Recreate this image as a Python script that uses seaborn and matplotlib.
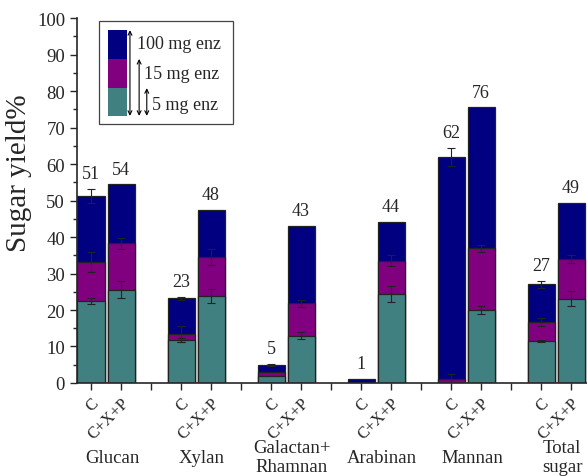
import matplotlib
matplotlib.use('Agg')
import matplotlib.pyplot as plt
import matplotlib.transforms as mtransforms
import numpy as np
import pandas as pd
import seaborn as sns

# data (cumulative yield at each enzyme dose)
groups = ['Glucan', 'Xylan', 'Galactan+\nRhamnan', 'Arabinan', 'Mannan', 'Total\nsugar']
samples = ['C', 'C+X+P']
positions = [1, 2, 4, 5, 7, 8, 10, 11, 13, 14, 16, 17]

yield_5 = [22.5, 25.6, 11.8, 23.8, 1.8, 13.0, 0.0, 24.5, 0.0, 20.0, 11.5, 23.1]
yield_15 = [33.1, 38.3, 13.4, 34.5, 3.0, 21.8, 0.0, 33.5, 1.0, 36.9, 16.7, 34.0]
yield_100 = [51.2, 54.4, 23.2, 47.4, 5.0, 42.9, 1.0, 44.2, 62.0, 75.5, 27.0, 49.4]

err_5 = [0.9, 2.4, 0.5, 1.9, 0.0, 1.0, 0.0, 2.2, 0.0, 1.2, 0.3, 2.0]
err_15 = [2.8, 1.5, 2.3, 2.1, 0.0, 1.0, 0.0, 1.5, 1.5, 1.0, 1.2, 1.2]
err_100 = [1.9, 0.0, 0.5, 0.0, 0.3, 0.0, 0.0, 0.0, 2.4, 0.0, 1.0, 0.0]

top_labels = ['51', '54', '23', '48', '5', '43', '1', '44', '62', '76', '27', '49']

doses = ['100 mg enz', '15 mg enz', '5 mg enz']
colors = {'100 mg enz': '#000080', '15 mg enz': '#800080', '5 mg enz': '#408080'}

rows = []
for d, vals, errs in zip(doses, [yield_100, yield_15, yield_5], [err_100, err_15, err_5]):
    for i, p in enumerate(positions):
        rows.append({'dose': d, 'pos': p, 'value': vals[i], 'err': errs[i]})
df = pd.DataFrame(rows)

sns.set_style('ticks')
plt.rcParams['font.family'] = ['Liberation Serif', 'DejaVu Serif']

fig = plt.figure(figsize=(5.87, 4.77), dpi=100)
ax = fig.add_axes([0.131, 0.195, 0.869, 0.765])

# bars overlap: largest dose first, smaller ones drawn on top
for d in doses:
    sub = df[df['dose'] == d]
    sns.barplot(data=sub, x='pos', y='value', native_scale=True, width=0.9,
                color=colors[d], saturation=1, edgecolor='#222222', linewidth=0.9,
                errorbar=None, ax=ax)

for d in doses:
    sub = df[(df['dose'] == d) & (df['err'] > 0)]
    ax.errorbar(sub['pos'], sub['value'], yerr=sub['err'], fmt='none',
                ecolor='#222222', elinewidth=0.8, capsize=3, capthick=0.8, zorder=5)

# value labels above each bar
for i, p in enumerate(positions):
    top = yield_100[i] + err_100[i]
    ax.annotate(top_labels[i], (p, top), xytext=(0, 5), textcoords='offset points',
                ha='center', va='bottom', fontsize=13)

ax.set_xlim(0.53, 17.53)
ax.set_ylim(0, 100)
ax.set_yticks(np.arange(0, 101, 10))
ax.set_yticks(np.arange(0, 101, 5), minor=True)
ax.tick_params(axis='y', which='major', length=5, width=1, labelsize=13.5, direction='out')
ax.tick_params(axis='y', which='minor', length=3, width=1, direction='out')
ax.set_ylabel('Sugar yield%', fontsize=21)
ax.yaxis.set_label_coords(-0.088, 0.578)
ax.set_xlabel('')

ax.set_xticks(range(1, 18))
xt = []
for k in range(1, 18):
    if k in positions:
        xt.append(samples[positions.index(k) % 2])
    else:
        xt.append('')
ax.set_xticklabels(xt, rotation=45, ha='right', rotation_mode='anchor', fontsize=12)
shift = mtransforms.ScaledTranslation(8 / 100, 0, fig.dpi_scale_trans)
for lab in ax.get_xticklabels():
    lab.set_transform(lab.get_transform() + shift)
ax.tick_params(axis='x', length=5, width=1, direction='out')

for s in ['top', 'right']:
    ax.spines[s].set_visible(False)
for s in ['left', 'bottom']:
    ax.spines[s].set_linewidth(1.2)

# group names under the tick labels
for g, gname in enumerate(groups):
    xc = (positions[2 * g] + positions[2 * g + 1]) / 2 + 0.2
    ax.text(xc, -0.203, gname, transform=ax.get_xaxis_transform(), ha='center',
            va='center', fontsize=13.5, linespacing=1.1)

# hand-drawn legend with nested arrows
ax.add_patch(plt.Rectangle((0.043, 0.71), 0.263, 0.282, transform=ax.transAxes,
                           fill=False, edgecolor='#444444', linewidth=0.9, zorder=6))
seg = [(0.888, 0.967, '100 mg enz'), (0.808, 0.888, '15 mg enz'), (0.732, 0.808, '5 mg enz')]
for y0, y1, d in seg:
    ax.add_patch(plt.Rectangle((0.061, y0), 0.037, y1 - y0, transform=ax.transAxes,
                               facecolor=colors[d], edgecolor='none', zorder=7))
arrows = [(0.104, 0.967, 0.929, 0.117, '100 mg enz'),
          (0.122, 0.888, 0.847, 0.132, '15 mg enz'),
          (0.137, 0.808, 0.764, 0.147, '5 mg enz')]
for ax_x, ytop, ytxt, tx, d in arrows:
    ax.annotate('', xy=(ax_x, ytop), xytext=(ax_x, 0.732), xycoords='axes fraction',
                textcoords='axes fraction',
                arrowprops=dict(arrowstyle='<->', lw=0.8, color='black', mutation_scale=7,
                                shrinkA=0, shrinkB=0), zorder=7)
    ax.text(tx, ytxt, d, transform=ax.transAxes, ha='left', va='center', fontsize=13, zorder=7)

fig.savefig('out.png', dpi=100)
